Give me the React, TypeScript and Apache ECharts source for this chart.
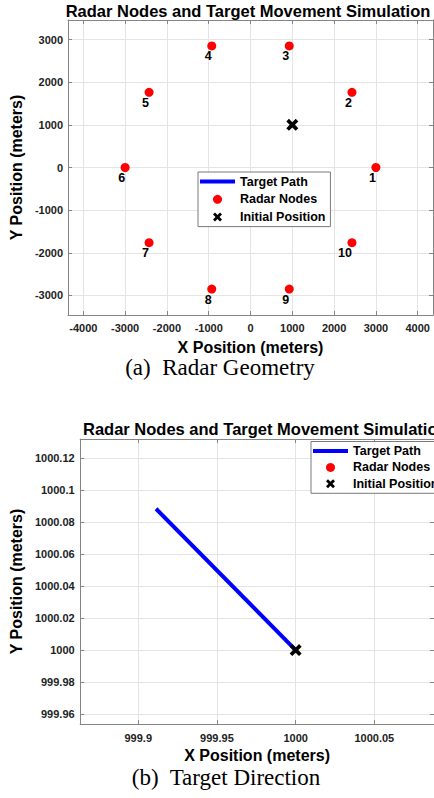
import React, { useEffect, useRef } from "react";
import * as echarts from "echarts";

// ---- data ----
const radarIds = ["1", "2", "3", "4", "5", "6", "7", "8", "9", "10"];
const radarX = [3000, 2427, 927, -927, -2427, -3000, -2427, -927, 927, 2427];
const radarY = [0, 1763, 2853, 2853, 1763, 0, -1763, -2853, -2853, -1763];
const initialX = [1000];
const initialY = [1000];
const targetPathX = [999.9113, 1000];
const targetPathY = [1000.0883, 1000];

const chartTitle = "Radar Nodes and Target Movement Simulation";
const captionA = "(a)  Radar Geometry";
const captionB = "(b)  Target Direction";
const xName = "X Position (meters)";
const yName = "Y Position (meters)";

const FONT = "'Liberation Sans', Arial, Helvetica, sans-serif";
const SERIF = "'Liberation Serif', 'Times New Roman', Times, serif";
const X_PATH = "path://M0,2.2L2.2,0L5,2.8L7.8,0L10,2.2L7.2,5L10,7.8L7.8,10L5,7.2L2.2,10L0,7.8L2.8,5Z";
const LINE_PATH = "path://M0,0L35,0L35,4L0,4Z";
const AXIS_COLOR = "#858585";
const GRID_COLOR = "#e4e4e4";
const TICK_TEXT = "#222222";

const fmt = (v: number) => String(parseFloat(Number(v).toFixed(6)));

function mainAxis(
  gridIndex: number,
  min: number,
  max: number,
  splitNumber: number,
  position: string,
  name: string,
  nameGap: number,
  labelMargin: number
) {
  return {
    type: "value",
    gridIndex,
    min,
    max,
    splitNumber,
    position,
    name,
    nameLocation: "middle",
    nameGap,
    nameTextStyle: { fontFamily: FONT, fontWeight: "bold", fontSize: 16, color: "#000", lineHeight: 16 },
    axisLine: { show: true, onZero: false, lineStyle: { color: AXIS_COLOR, width: 1 } },
    axisTick: { show: true, inside: true, length: 4, lineStyle: { color: AXIS_COLOR } },
    axisLabel: {
      show: true,
      margin: labelMargin,
      showMinLabel: false,
      showMaxLabel: false,
      fontFamily: FONT,
      fontWeight: "bold",
      fontSize: 11,
      color: TICK_TEXT,
      formatter: fmt,
    },
    splitLine: { show: true, lineStyle: { color: GRID_COLOR, width: 1 } },
  };
}

function boxAxis(gridIndex: number, min: number, max: number, splitNumber: number, position: string) {
  return {
    type: "value",
    gridIndex,
    min,
    max,
    splitNumber,
    position,
    axisLine: { show: true, onZero: false, lineStyle: { color: AXIS_COLOR, width: 1 } },
    axisTick: { show: true, inside: true, length: 4, lineStyle: { color: AXIS_COLOR } },
    axisLabel: { show: false },
    splitLine: { show: false },
  };
}

function legendFor(left: number, top: number, itemGap: number) {
  return {
    orient: "vertical",
    left,
    top,
    itemWidth: 35,
    itemHeight: 9,
    itemGap,
    padding: [3, 5, 3, 2],
    backgroundColor: "#ffffff",
    borderColor: "#7a7a7a",
    borderWidth: 1,
    borderRadius: 0,
    selectedMode: false,
    itemStyle: { borderWidth: 0, opacity: 1 },
    textStyle: { fontFamily: FONT, fontWeight: "bold", fontSize: 12.5, color: "#000", lineHeight: 13 },
    data: [
      { name: "Target Path", icon: LINE_PATH },
      { name: "Radar Nodes", icon: "circle" },
      { name: "Initial Position", icon: X_PATH },
    ],
  };
}

function seriesFor(axisIndex: number, withLabels: boolean) {
  return [
    {
      name: "Target Path",
      type: "line",
      xAxisIndex: axisIndex,
      yAxisIndex: axisIndex,
      data: targetPathX.map((x, i) => [x, targetPathY[i]]),
      showSymbol: false,
      symbol: "none",
      clip: true,
      itemStyle: { color: "#0000ff", borderWidth: 0 },
      lineStyle: { color: "#0000ff", width: 4 },
      z: 2,
    },
    {
      name: "Radar Nodes",
      type: "scatter",
      xAxisIndex: axisIndex,
      yAxisIndex: axisIndex,
      data: radarX.map((x, i) => [x, radarY[i], radarIds[i]]),
      symbol: "circle",
      symbolSize: 9,
      clip: true,
      itemStyle: { color: "#ff0000", opacity: 1 },
      label: {
        show: withLabels,
        position: [4.5, 8.5],
        align: "right",
        verticalAlign: "top",
        formatter: (p: any) => p.value[2],
        fontFamily: FONT,
        fontWeight: "bold",
        fontSize: 12.5,
        color: "#000",
      },
      z: 3,
    },
    {
      name: "Initial Position",
      type: "scatter",
      xAxisIndex: axisIndex,
      yAxisIndex: axisIndex,
      data: initialX.map((x, i) => [x, initialY[i]]),
      symbol: X_PATH,
      symbolSize: 12,
      clip: true,
      itemStyle: { color: "#000000", opacity: 1 },
      z: 4,
    },
  ];
}

export default function App() {
  const ref = useRef<HTMLDivElement>(null);

  useEffect(() => {
    if (!ref.current) return;
    const chart = echarts.init(ref.current, undefined, { renderer: "svg" });

    const topX: [number, number] = [-4366, 4366];
    const topY: [number, number] = [-3460, 3460];
    const botX: [number, number] = [999.8631, 1000.0879];
    const botY: [number, number] = [999.9538, 1000.1319];

    chart.setOption({
      animation: false,
      backgroundColor: "#ffffff",
      title: [
        {
          text: chartTitle,
          left: 248,
          top: 2,
          textAlign: "center",
          padding: 0,
          textStyle: { fontFamily: FONT, fontWeight: "bold", fontSize: 16.5, color: "#000" },
        },
        {
          text: chartTitle,
          left: 83,
          top: 420,
          padding: 0,
          textStyle: { fontFamily: FONT, fontWeight: "bold", fontSize: 16.5, color: "#000" },
        },
        {
          text: captionA,
          left: 220,
          top: 357,
          textAlign: "center",
          padding: 0,
          textStyle: { fontFamily: SERIF, fontWeight: "normal", fontSize: 23, color: "#000", lineHeight: 20 },
        },
        {
          text: captionB,
          left: 226,
          top: 767,
          textAlign: "center",
          padding: 0,
          textStyle: { fontFamily: SERIF, fontWeight: "normal", fontSize: 23, color: "#000", lineHeight: 20 },
        },
      ],
      legend: [legendFor(198, 172, 4.8), legendFor(311, 441.5, 3.4)],
      grid: [
        { left: 62, top: 20, width: 371, height: 295, containLabel: false },
        { left: 78, top: 439, width: 360, height: 285, containLabel: false },
      ],
      xAxis: [
        mainAxis(0, topX[0], topX[1], 8, "bottom", xName, 24, 7),
        boxAxis(0, topX[0], topX[1], 8, "top"),
        mainAxis(1, botX[0], botX[1], 5, "bottom", xName, 23.5, 8),
        boxAxis(1, botX[0], botX[1], 5, "top"),
      ],
      yAxis: [
        mainAxis(0, topY[0], topY[1], 7, "left", yName, 39, 5),
        boxAxis(0, topY[0], topY[1], 7, "right"),
        mainAxis(1, botY[0], botY[1], 9, "left", yName, 51, 5.5),
        boxAxis(1, botY[0], botY[1], 9, "right"),
      ],
      series: [...seriesFor(0, true), ...seriesFor(2, false)],
    });

    return () => chart.dispose();
  }, []);

  return (
    <div
      ref={ref}
      style={{ position: "absolute", left: 0, top: 0, width: 434, height: 798, background: "#fff" }}
    />
  );
}
